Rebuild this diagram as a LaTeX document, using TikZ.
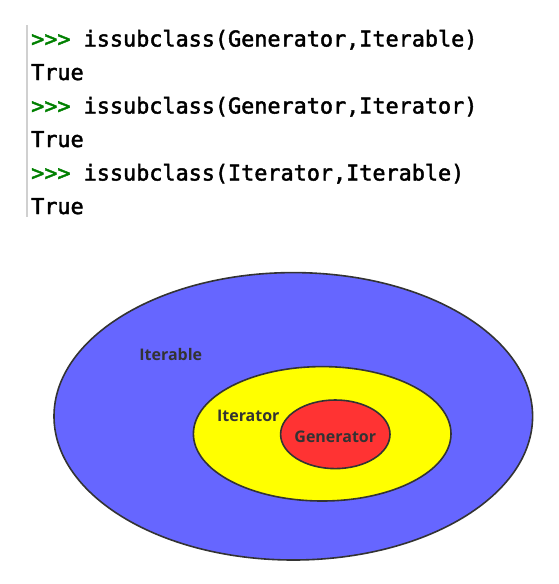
\documentclass[tikz,border=0pt]{standalone}
\usepackage{fontspec}
\newfontfamily\codefont[FakeBold=2]{DejaVu Sans Mono}
\newfontfamily\setfont[BoldFont = {* Bold}]{Open Sans}
\usetikzlibrary{shapes.geometric, positioning}
\definecolor{promptgreen}{HTML}{008000}
\definecolor{bargray}{HTML}{D0D0D0}
\definecolor{setline}{HTML}{333333}
\definecolor{labelgray}{HTML}{333333}
\definecolor{iterablefill}{HTML}{6666FF}
\definecolor{iteratorfill}{HTML}{FFFF00}
\definecolor{generatorfill}{HTML}{FF3333}

\begin{document}
\begin{tikzpicture}[
    x = 1pt, y = -1pt,
    code/.style = {anchor = base west, inner sep = 0pt,
                   font = \codefont\fontsize{21.8}{26}\selectfont},
    set/.style = {ellipse, draw = setline, line width = 1.6pt, inner sep = 0pt},
    setlabel/.style = {font = \setfont\bfseries\fontsize{16}{20}\selectfont,
                       text = labelgray, inner sep = 0pt}
]
\useasboundingbox (0,0) rectangle (558,584);

% Shell
\coordinate (bartop) at (27,25);
\coordinate (barbot) at (27,217);
\draw[bargray, line width = 2pt] (bartop) -- (barbot);

\node[code] (q1) at (31,46.5)  {\textcolor{promptgreen}{>>>} issubclass(Generator,Iterable)};
\node[code] (a1) at (31,80)    {True};
\node[code] (q2) at (31,113.5) {\textcolor{promptgreen}{>>>} issubclass(Generator,Iterator)};
\node[code] (a2) at (31,147)   {True};
\node[code] (q3) at (31,180.5) {\textcolor{promptgreen}{>>>} issubclass(Iterator,Iterable)};
\node[code] (a3) at (31,214)   {True};

% Sets
\node[set, fill = iterablefill, minimum width = 478.6pt, minimum height = 287.4pt]
    (iterable) at (293.3,416.3) {};
\node[set, fill = iteratorfill, minimum width = 257.6pt, minimum height = 134.4pt]
    (iterator) at (322.2,433.8) {};
\node[set, fill = generatorfill, minimum width = 109.4pt, minimum height = 68.6pt]
    (generator) at (335.3,434.3) {};

\node[setlabel] (iterablelabel)  at (170.8,354)   {Iterable};
\node[setlabel] (iteratorlabel)  at (248.3,416)   {Iterator};
\node[setlabel] (generatorlabel) at (335.3,436.5) {Generator};

\end{tikzpicture}
\end{document}
